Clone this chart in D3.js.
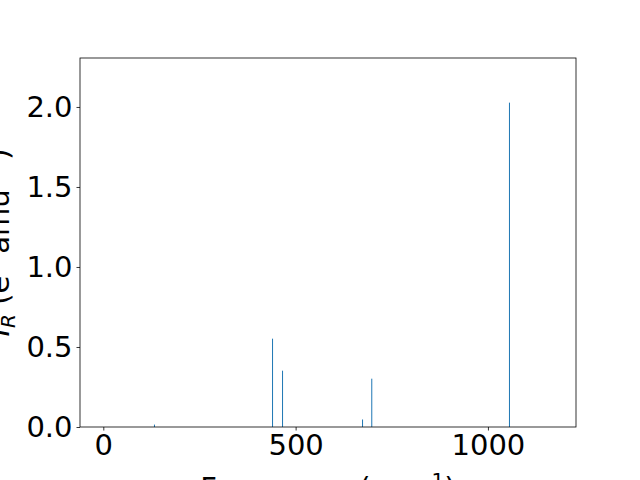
<!DOCTYPE html>
<html>
<head>
<meta charset="utf-8">
<script src="https://cdn.jsdelivr.net/npm/d3@7"></script>
<style>
 body { margin: 0; background: #fff; }
 svg { display: block; font-family: "DejaVu Sans", sans-serif; }
</style>
</head>
<body>
<svg id="chart"></svg>
<script>
 // vibrational frequencies (cm^-1) and intensities
 const freqs = [133, 440, 466, 674, 698, 1056]
 const intens = [0.015, 0.552, 0.352, 0.047, 0.302, 2.027]
 const xTicks = [0, 500, 1000]
 const yTicks = [0, 0.5, 1.0, 1.5, 2.0]

 const W = 640, H = 480
 const axLeft = 80, axRight = 576, axTop = 58, axBottom = 427

 const svg = d3.select("#chart").attr("width", W).attr("height", H)

 const x = d3.scaleLinear().domain([-60.6, 1229]).range([axLeft, axRight])
 const y = d3.scaleLinear().domain([0, 2.306]).range([axBottom, axTop])

 const data = freqs.map((f, i) => ({f: f, v: intens[i]}))

 // bars (sticks)
 svg.append("g")
      .selectAll("rect")
      .data(data)
      .enter().append("rect")
           .attr("x", d => x(d.f) - 0.5)
           .attr("y", d => y(d.v))
           .attr("width", 1)
           .attr("height", d => y(0) - y(d.v))
           .attr("fill", "#1f77b4")

 // axes
 const xAxis = svg.append("g")
      .attr("transform", `translate(0,${axBottom})`)
      .call(d3.axisBottom(x).tickValues(xTicks).tickSize(3.5).tickPadding(4).tickFormat(d3.format("d")))
 const yAxis = svg.append("g")
      .attr("transform", `translate(${axLeft},0)`)
      .call(d3.axisLeft(y).tickValues(yTicks).tickSize(3.5).tickPadding(4).tickFormat(d3.format(".1f")))

 ;[xAxis, yAxis].forEach(a => {
      a.select(".domain").remove()
      a.selectAll("line").attr("stroke", "#000").attr("stroke-width", 0.8)
      a.selectAll("text").attr("font-size", 29).attr("fill", "#000")
           .attr("font-family", "DejaVu Sans, sans-serif")
 })

 // frame
 svg.append("rect")
      .attr("x", axLeft).attr("y", axTop)
      .attr("width", axRight - axLeft).attr("height", axBottom - axTop)
      .attr("fill", "none").attr("stroke", "#000").attr("stroke-width", 0.8)

 // axis labels
 const xl = svg.append("text")
      .attr("x", (axLeft + axRight) / 2).attr("y", 498)
      .attr("text-anchor", "middle").attr("font-size", 29)
 xl.append("tspan").text("Frequency (cm")
 xl.append("tspan").attr("dy", -11).attr("font-size", 20).text("−1")
 xl.append("tspan").attr("dy", 11).text(")")

 const yl = svg.append("text")
      .attr("transform", `translate(9,${(axTop + axBottom) / 2}) rotate(-90)`)
      .attr("text-anchor", "middle").attr("font-size", 29)
 yl.append("tspan").attr("font-style", "italic").text("I")
 yl.append("tspan").attr("dy", 6).attr("font-size", 20).attr("font-style", "italic").text("R")
 yl.append("tspan").attr("dy", -6).text(" (e")
 yl.append("tspan").attr("dy", -11).attr("font-size", 20).text("2")
 yl.append("tspan").attr("dy", 11).text(" amu")
 yl.append("tspan").attr("dy", -11).attr("font-size", 20).text("−1")
 yl.append("tspan").attr("dy", 11).text(")")
</script>
</body>
</html>
